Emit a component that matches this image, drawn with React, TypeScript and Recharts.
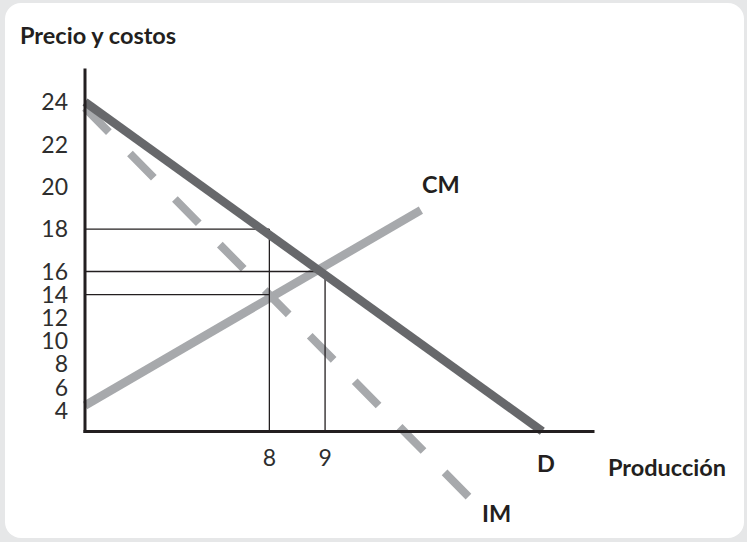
import React from 'react';
import { LineChart, Line, XAxis, YAxis, ReferenceLine } from 'recharts';

// Tick labels on the axes
const priceTicks = [4, 6, 8, 10, 12, 14, 16, 18, 20, 22, 24];
const qtyTicks = [8, 9];

// Curves (quantity, price)
const demand = [
  { q: 4.69, p: 24 },
  { q: 12.9, p: 2.23 },
];
const marginalCost = [
  { q: 4.69, p: 4.45 },
  { q: 10.72, p: 18.9 },
];
const marginalRevenue = [
  { q: 4.69, p: 23.72 },
  { q: 11.58, p: -3.43 },
];

// Guide lines
const horizontalGuides = [
  { p: 18, q: 8 },
  { p: 16, q: 9 },
  { p: 14, q: 8 },
];
const verticalGuides = [
  { q: 8, p: 18 },
  { q: 9, p: 16 },
];

// Axis extents
const Q_MIN = 4.69;
const Q_MAX = 13.81;
const P_ORIGIN = 2.21;
const P_TOP = 25.51;

// stylised (broken) price axis: below 16 the scale is compressed
const BREAK = 16;
const LOWER = 0.5475;
const yPos = (p: number) => (p >= BREAK ? p : BREAK - (BREAK - p) * LOWER);
const yPrice = (v: number) => (v >= BREAK - 1e-9 ? v : BREAK - (BREAK - v) / LOWER);

const FONT = 'Lato, "Open Sans", sans-serif';
const INK = '#231f20';
const DARK = '#67686b';
const LIGHT = '#a7a9ac';

const toRows = (arr: { q: number; p: number }[]) => arr.map((d) => ({ q: d.q, y: yPos(d.p) }));

export default function App() {
  const yMin = yPos(P_ORIGIN);
  const yMax = yPos(P_TOP);
  return (
    <div style={{ position: 'fixed', left: 0, top: 0, width: 747, height: 542, background: '#e6e7e8' }}>
      <div
        style={{
          position: 'absolute',
          left: 5,
          top: 3,
          width: 739,
          height: 535,
          background: '#ffffff',
          borderRadius: 16,
        }}
      />
      <div style={{ position: 'absolute', left: 0, top: 0 }}>
        <LineChart width={747} height={542} margin={{ top: 70, right: 154, bottom: 70.5, left: 25 }}>
          <XAxis
            type="number"
            dataKey="q"
            domain={[Q_MIN, Q_MAX]}
            ticks={qtyTicks}
            interval={0}
            tickLine={false}
            tickSize={0}
            tickMargin={18}
            height={40}
            axisLine={{ stroke: INK, strokeWidth: 3, strokeLinecap: 'square' }}
            tick={{ fill: '#2e2e2e', fontSize: 23, fontFamily: FONT }}
          />
          <YAxis
            type="number"
            domain={[yMin, yMax]}
            ticks={priceTicks.map(yPos)}
            interval={0}
            tickFormatter={(v: number) => String(Math.round(yPrice(v)))}
            tickLine={false}
            tickSize={0}
            tickMargin={17}
            width={60}
            axisLine={{ stroke: INK, strokeWidth: 3, strokeLinecap: 'square' }}
            tick={{ fill: '#2e2e2e', fontSize: 23, fontFamily: FONT }}
          />
          <Line
            data={toRows(marginalCost)}
            dataKey="y"
            stroke={LIGHT}
            strokeWidth={8.5}
            dot={false}
            activeDot={false}
            isAnimationActive={false}
          />
          <ReferenceLine
            segment={[
              { x: marginalRevenue[0].q, y: yPos(marginalRevenue[0].p) },
              { x: marginalRevenue[1].q, y: yPos(marginalRevenue[1].p) },
            ]}
            stroke={LIGHT}
            strokeWidth={8}
            strokeDasharray="34 30"
            ifOverflow="visible"
          />
          {horizontalGuides.map((g, i) => (
            <ReferenceLine
              key={'h' + i}
              segment={[
                { x: Q_MIN, y: yPos(g.p) },
                { x: g.q, y: yPos(g.p) },
              ]}
              stroke={INK}
              strokeWidth={1.3}
              ifOverflow="visible"
            />
          ))}
          {verticalGuides.map((g, i) => (
            <ReferenceLine
              key={'v' + i}
              segment={[
                { x: g.q, y: yMin },
                { x: g.q, y: yPos(g.p) },
              ]}
              stroke={INK}
              strokeWidth={1.3}
              ifOverflow="visible"
            />
          ))}
          <Line
            data={toRows(demand)}
            dataKey="y"
            stroke={DARK}
            strokeWidth={8.5}
            dot={false}
            activeDot={false}
            isAnimationActive={false}
          />
        </LineChart>
      </div>
      <svg
        width={747}
        height={542}
        style={{ position: 'absolute', left: 0, top: 0, pointerEvents: 'none' }}
      >
        <g fontFamily={FONT} fontWeight="bold" fontSize={23.5} fill={INK}>
          <text x={20} y={44}>Precio y costos</text>
          <text x={422} y={193}>CM</text>
          <text x={537} y={472}>D</text>
          <text x={608} y={476}>Producción</text>
          <text x={482} y={522}>IM</text>
        </g>
      </svg>
    </div>
  );
}
